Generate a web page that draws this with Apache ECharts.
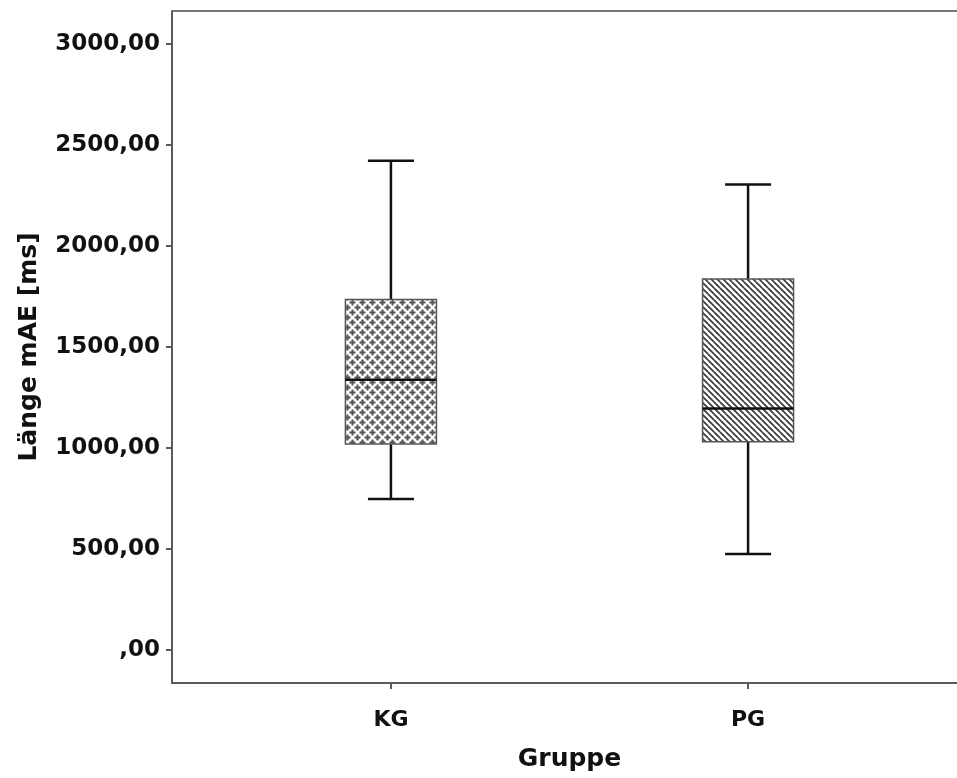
<!DOCTYPE html>
<html>
<head>
<meta charset="utf-8">
<script src="https://cdn.jsdelivr.net/npm/echarts@6/dist/echarts.min.js"></script>
<style>
  html, body { margin: 0; padding: 0; background: #fff; overflow: hidden; }
  #chart { width: 957px; height: 778px; }
</style>
</head>
<body>
<div id="chart"></div>
<script>
// Groups and their box-plot statistics (ms)
const categories = ['KG', 'PG'];
const whiskerLow  = [747, 475];
const quartile1   = [1019, 1030];
const medians     = [1337, 1195];
const quartile3   = [1734, 1835];
const whiskerHigh = [2420, 2303];
const yTicks = [0, 500, 1000, 1500, 2000, 2500, 3000];

function fmtTick(v) {
  return v === 0 ? ',00' : v.toFixed(2).replace('.', ',');
}

// Fill patterns: crosses for KG, diagonal hatching for PG
function crossPattern() {
  const c = document.createElement('canvas');
  c.width = 10; c.height = 10;
  const g = c.getContext('2d');
  g.fillStyle = '#fff'; g.fillRect(0, 0, 10, 10);
  g.fillStyle = '#555';
  const plus = (cx, cy) => {
    g.fillRect(cx - 3, cy - 1, 6, 2);
    g.fillRect(cx - 1, cy - 3, 2, 6);
  };
  [[2.5, 2.5], [7.5, 7.5], [-2.5, 7.5], [12.5, 7.5], [7.5, -2.5], [7.5, 12.5], [2.5, 12.5], [12.5, 2.5], [-2.5, 2.5], [2.5, -2.5]].forEach(p => plus(p[0], p[1]));
  return c;
}
function hatchPattern() {
  const c = document.createElement('canvas');
  c.width = 6; c.height = 6;
  const g = c.getContext('2d');
  g.fillStyle = '#fff'; g.fillRect(0, 0, 6, 6);
  g.strokeStyle = '#3a3a3a'; g.lineWidth = 1.7;
  [[-6, -6], [0, 0], [6, 6], [-6, 0], [0, -6], [6, 0], [0, 6]].forEach(o => {
    g.beginPath();
    g.moveTo(o[0], o[1]);
    g.lineTo(o[0] + 6, o[1] + 6);
    g.stroke();
  });
  return c;
}
const patterns = [crossPattern(), hatchPattern()];

const boxData = categories.map((c, i) => [i + 1, whiskerLow[i], quartile1[i], medians[i], quartile3[i], whiskerHigh[i]]);

const chart = echarts.init(document.getElementById('chart'));
const fontFam = '"DejaVu Sans", sans-serif';
const frameLine = { color: '#5a5a5a', width: 2 };

chart.setOption({
  animation: false,
  backgroundColor: '#fff',
  grid: {
    left: 172, top: 11, width: 795, height: 672,
    outerBoundsMode: 'none',
    containLabel: false,
    show: false
  },
  xAxis: [{
    type: 'value',
    min: 0.387, max: 2.613,
    name: 'Gruppe',
    nameLocation: 'middle',
    nameGap: 64,
    nameTextStyle: { fontFamily: fontFam, fontWeight: 'bold', fontSize: 25, color: '#111' },
    axisLine: { show: true, onZero: false, lineStyle: frameLine },
    axisTick: { show: true, length: 6, customValues: [1, 2], lineStyle: frameLine },
    axisLabel: {
      customValues: [1, 2],
      formatter: v => categories[Math.round(v) - 1] || '',
      margin: 26,
      fontFamily: fontFam, fontWeight: 'bold', fontSize: 22, color: '#111'
    },
    splitLine: { show: false }
  }, {
    // top edge of the frame
    type: 'value',
    position: 'top',
    min: 0.387, max: 2.613,
    axisLine: { show: true, onZero: false, lineStyle: { color: '#777', width: 2 } },
    axisTick: { show: false },
    axisLabel: { show: false },
    splitLine: { show: false }
  }],
  yAxis: {
    type: 'value',
    min: -163, max: 3161,
    name: 'Länge mAE [ms]',
    nameLocation: 'middle',
    nameGap: 130,
    nameRotate: 90,
    nameTextStyle: { fontFamily: fontFam, fontWeight: 'bold', fontSize: 25, color: '#111' },
    axisLine: { show: true, onZero: false, lineStyle: frameLine },
    axisTick: { show: true, length: 6, customValues: yTicks, lineStyle: frameLine },
    axisLabel: {
      customValues: yTicks,
      formatter: v => fmtTick(v),
      margin: 12,
      fontFamily: fontFam, fontWeight: 'bold', fontSize: 23, color: '#111'
    },
    splitLine: { show: false }
  },
  series: [{
    type: 'custom',
    xAxisIndex: 0,
    data: boxData,
    encode: { x: 0, y: [1, 2, 3, 4, 5] },
    renderItem: function (params, api) {
      const i = params.dataIndex;
      const x = api.value(0);
      const pLow = api.coord([x, api.value(1)]);
      const pQ1 = api.coord([x, api.value(2)]);
      const pMed = api.coord([x, api.value(3)]);
      const pQ3 = api.coord([x, api.value(4)]);
      const pHigh = api.coord([x, api.value(5)]);
      const cx = pQ1[0];
      const half = 45.5, cap = 23;
      const wStyle = { stroke: '#111', lineWidth: 2.5 };
      return {
        type: 'group',
        children: [
          { type: 'line', shape: { x1: cx, y1: pHigh[1], x2: cx, y2: pQ3[1] }, style: wStyle },
          { type: 'line', shape: { x1: cx, y1: pQ1[1], x2: cx, y2: pLow[1] }, style: wStyle },
          { type: 'line', shape: { x1: cx - cap, y1: pHigh[1], x2: cx + cap, y2: pHigh[1] }, style: wStyle },
          { type: 'line', shape: { x1: cx - cap, y1: pLow[1], x2: cx + cap, y2: pLow[1] }, style: wStyle },
          {
            type: 'rect',
            shape: { x: cx - half, y: pQ3[1], width: half * 2, height: pQ1[1] - pQ3[1] },
            style: { fill: { image: patterns[i], repeat: 'repeat' }, stroke: '#555', lineWidth: 1.5 }
          },
          { type: 'line', shape: { x1: cx - half, y1: pMed[1], x2: cx + half, y2: pMed[1] }, style: wStyle }
        ]
      };
    }
  }]
});
</script>
</body>
</html>
